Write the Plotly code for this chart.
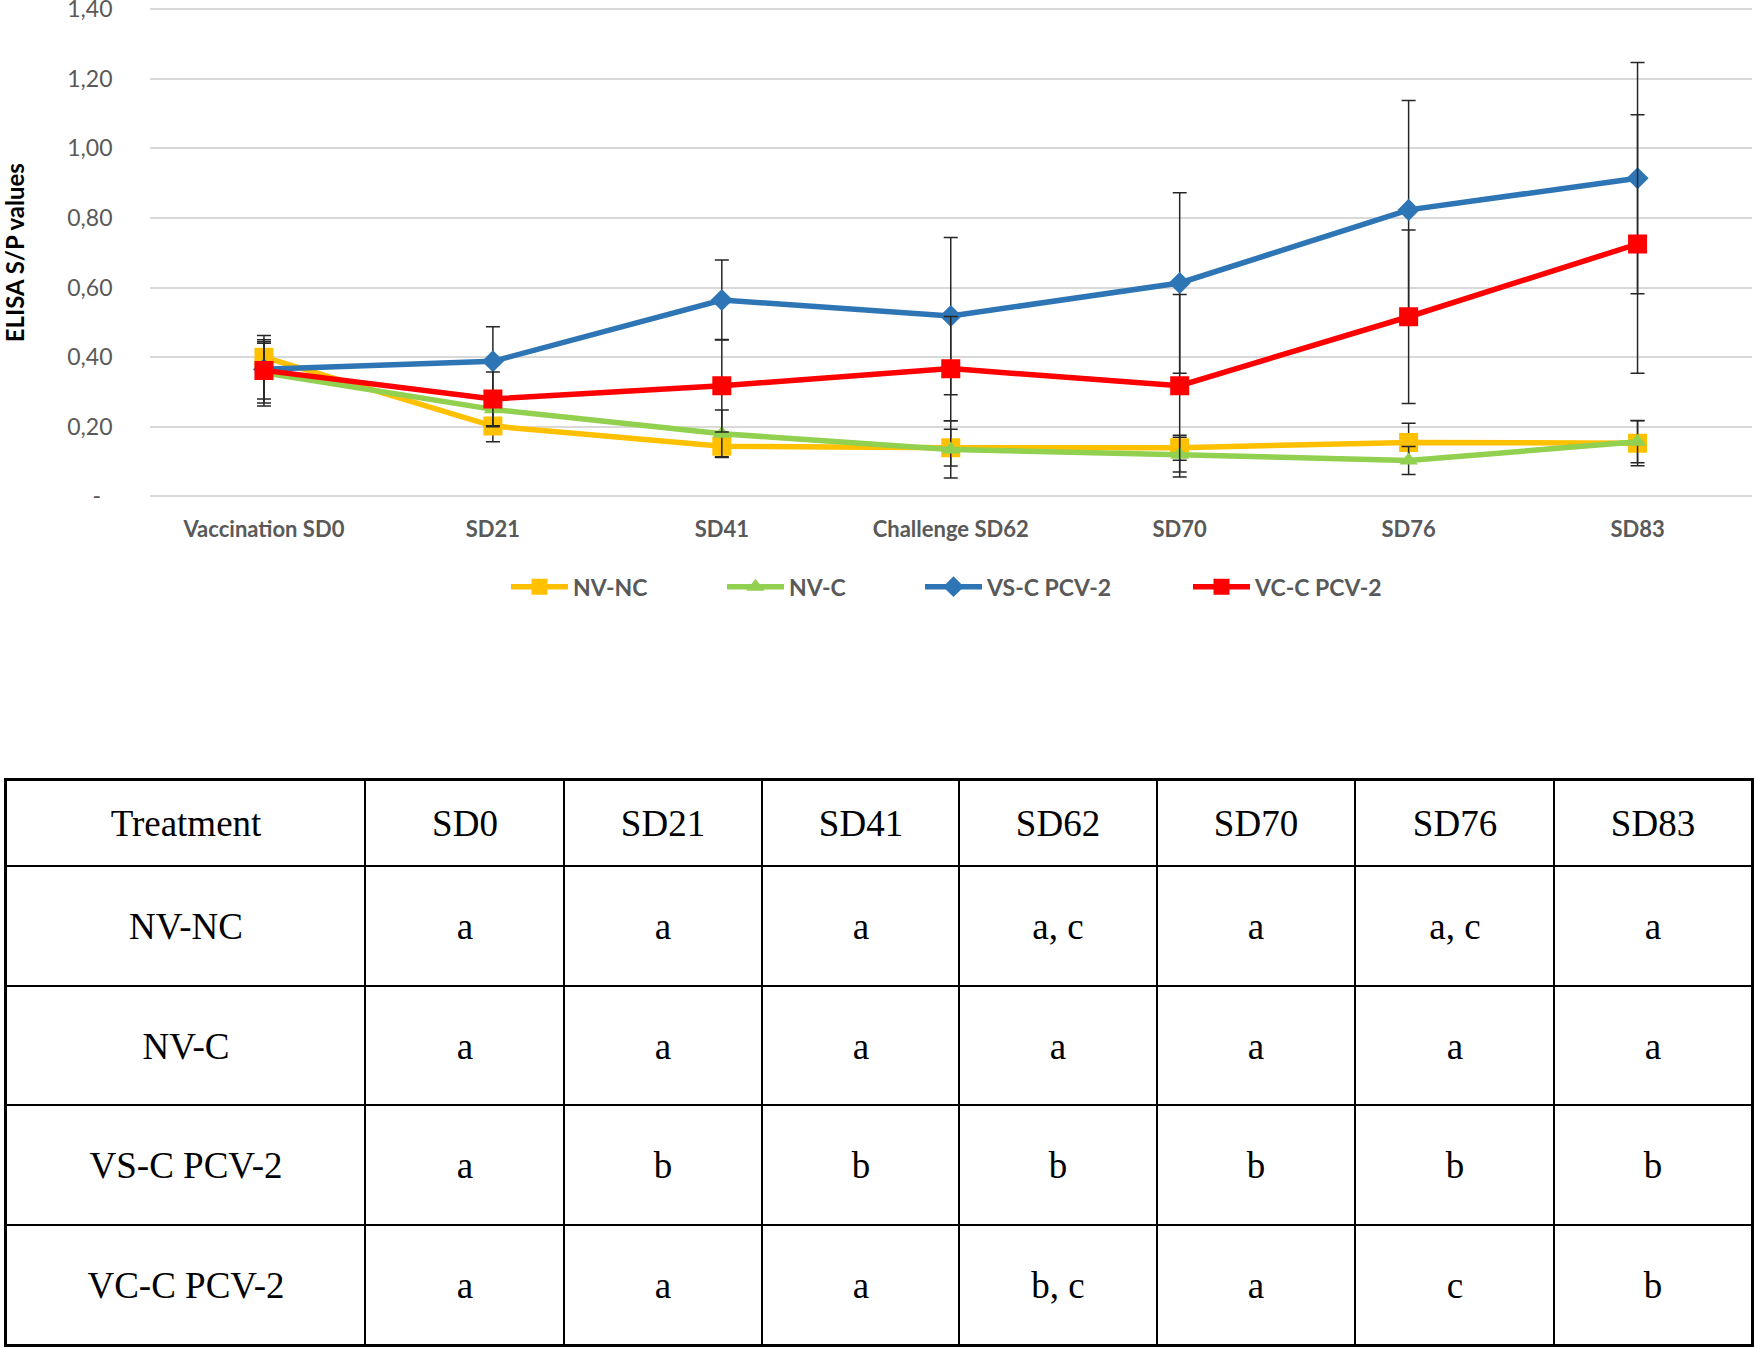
import plotly.graph_objects as go
from itertools import accumulate

# ---------------- data ----------------
categories = ["Vaccination SD0", "SD21", "SD41", "Challenge SD62", "SD70", "SD76", "SD83"]

nv_nc = [0.400, 0.202, 0.144, 0.140, 0.140, 0.155, 0.153]
nv_nc_err = [0.040, 0.045, 0.030, 0.053, 0.036, 0.055, 0.065]

nv_c = [0.355, 0.250, 0.180, 0.135, 0.120, 0.103, 0.157]
nv_c_err = [0.095, 0.050, 0.068, 0.082, 0.050, 0.040, 0.060]

vs_c = [0.365, 0.388, 0.564, 0.518, 0.613, 0.823, 0.914]
vs_c_err = [0.097, 0.099, 0.115, 0.226, 0.259, 0.314, 0.332]

vc_c = [0.362, 0.280, 0.318, 0.367, 0.318, 0.516, 0.725]
vc_c_err = [0.082, 0.077, 0.133, 0.150, 0.262, 0.249, 0.371]

y_tickvals = [0, 0.2, 0.4, 0.6, 0.8, 1.0, 1.2, 1.4]
y_ticktext = ["-\u2002", "0,20", "0,40", "0,60", "0,80", "1,00", "1,20", "1,40"]

table_header = ["Treatment", "SD0", "SD21", "SD41", "SD62", "SD70", "SD76", "SD83"]
table_treatments = ["NV-NC", "NV-C", "VS-C PCV-2", "VC-C PCV-2"]
row_nv_nc = ["a", "a", "a", "a, c", "a", "a, c", "a"]
row_nv_c = ["a", "a", "a", "a", "a", "a", "a"]
row_vs_c = ["a", "b", "b", "b", "b", "b", "b"]
row_vc_c = ["a", "a", "a", "b, c", "a", "c", "b"]

# ---------------- styling / layout constants ----------------
W, H = 1755, 1348
FONT = "Lato"
GRAY = "#595959"

series = [
    ("NV-NC", nv_nc, nv_nc_err, "#FFC000", "square", 19, 144),
    ("NV-C", nv_c, nv_c_err, "#92D050", "triangle-up", 16, 126),
    ("VS-C PCV-2", vs_c, vs_c_err, "#2E75B6", "diamond", 17, 196),
    ("VC-C PCV-2", vc_c, vc_c_err, "#FF0000", "square", 19, 200),
]

fig = go.Figure()

for name, vals, errs, color, sym, size, lw in series:
    fig.add_trace(go.Scatter(
        x=categories, y=vals, name=name, mode="lines+markers",
        line=dict(color=color, width=5.5),
        marker=dict(symbol=sym, size=size, color=color, line=dict(width=0)),
        error_y=dict(type="data", array=errs, visible=True, color="#262626",
                     thickness=1.5, width=7),
        legendwidth=lw,
        xaxis="x", yaxis="y",
    ))

# ---------------- table (heatmap cells with text) ----------------
col_w = [359, 199, 198, 197, 198, 198, 199, 198]
row_h = [86, 120, 119, 120, 120]
x_edges = [0] + list(accumulate(col_w))
y_edges = [0] + list(accumulate(row_h))

cells = [table_header] + [
    [t] + r for t, r in zip(table_treatments, [row_nv_nc, row_nv_c, row_vs_c, row_vc_c])
]
z = [[0] * len(table_header) for _ in cells]

fig.add_trace(go.Heatmap(
    x=x_edges, y=y_edges, z=z, text=cells, texttemplate="%{text}",
    textfont=dict(family="Liberation Serif", size=37, color="black"),
    colorscale=[[0, "white"], [1, "white"]], showscale=False,
    xgap=2, ygap=2, hoverinfo="skip", showlegend=False,
    xaxis="x2", yaxis="y2",
))

fig.add_shape(type="rect", xref="x2 domain", yref="y2 domain",
              x0=0, x1=1, y0=0, y1=1, fillcolor="black",
              line=dict(width=0), layer="below")

# plot area geometry (pixels): value 0 at y=496.4, 1.40 at y=9
px_per_unit = (496.4 - 9) / 1.4
y_lo, y_hi = -0.02, 1.42
plot_left, plot_right = 149.5, 1752
plot_top = 9 - (y_hi - 1.4) * px_per_unit
plot_bottom = 496.4 + (0 - y_lo) * px_per_unit

fig.update_layout(
    width=W, height=H,
    margin=dict(l=0, r=0, t=0, b=0),
    paper_bgcolor="white", plot_bgcolor="white",
    font=dict(family=FONT, color=GRAY),
    xaxis=dict(
        domain=[plot_left / W, plot_right / W], anchor="y",
        type="category", range=[-0.5, 6.5],
        showgrid=False, zeroline=False, showline=False, ticks="",
        tickfont=dict(family=FONT, size=22, color=GRAY, weight="bold"),
        ticklabelstandoff=11, automargin=False,
    ),
    yaxis=dict(
        domain=[1 - plot_bottom / H, 1 - plot_top / H], anchor="x",
        range=[y_lo, y_hi], tickvals=y_tickvals, ticktext=y_ticktext,
        showgrid=True, gridcolor="#D9D9D9", gridwidth=1.5,
        zeroline=False, showline=False, ticks="",
        tickfont=dict(family=FONT, size=23, color=GRAY),
        ticklabelstandoff=36, ticklabeloverflow="allow", automargin=False,
        title=dict(text="ELISA S/P values", standoff=38,
                   font=dict(family=FONT, size=24, color="black", weight="bold")),
    ),
    xaxis2=dict(
        domain=[6 / W, 1752 / W], anchor="y2", range=[0, x_edges[-1]],
        showgrid=False, zeroline=False, showticklabels=False, ticks="",
        showline=True, mirror=True, linecolor="black", linewidth=2,
        automargin=False, fixedrange=True,
    ),
    yaxis2=dict(
        domain=[1 - 1345 / H, 1 - 780 / H], anchor="x2",
        range=[y_edges[-1], 0],
        showgrid=False, zeroline=False, showticklabels=False, ticks="",
        showline=True, mirror=True, linecolor="black", linewidth=2,
        automargin=False, fixedrange=True,
    ),
    legend=dict(
        orientation="h", x=506 / W, xanchor="left",
        y=1 - 586.7 / H, yanchor="middle",
        font=dict(family=FONT, size=23, color=GRAY, weight="bold"),
        itemwidth=57, bgcolor="rgba(0,0,0,0)", traceorder="normal",
    ),
    showlegend=True,
)

fig.write_html(
    "out.html",
    config={"displayModeBar": False},
    post_script="document.body.style.margin='0';document.body.style.overflow='hidden';",
)
